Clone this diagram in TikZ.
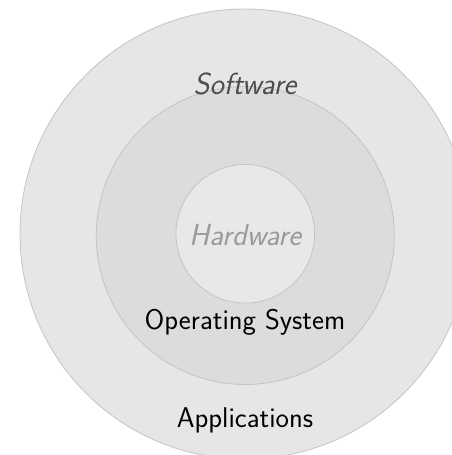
\documentclass[tikz,border=0pt]{standalone}
\definecolor{outerfill}{HTML}{E6E6E6}
\definecolor{midfill}{HTML}{DCDCDC}
\definecolor{corefill}{HTML}{E8E8E8}
\definecolor{ringline}{HTML}{C4C4C4}
\definecolor{softtext}{HTML}{4D4D4D}
\definecolor{hardtext}{HTML}{9A9A9A}
\tikzset{
  ring/.style={draw=ringline, line width=0.8pt},
  lbl/.style={font=\fontsize{28.5}{33}\selectfont\sffamily, inner sep=0pt, anchor=center},
  lblit/.style={lbl, font=\fontsize{30.5}{35}\selectfont\sffamily\itshape},
}
\begin{document}
\begin{tikzpicture}[x=1pt, y=-1pt]
  \useasboundingbox (0,0) rectangle (452,455);
  \fill[white] (0,0) rectangle (452,455);
  \begin{scope}
    \clip (0,0) rectangle (452,455);
    \path[ring, fill=outerfill] (245,234) circle[radius=225];
    \path[ring, fill=midfill] (245.3,235.5) circle[radius=149];
    \path[ring, fill=corefill] (245.3,233.8) circle[radius=69.3];
  \end{scope}
  \node[lblit, text=softtext] (sw) at (245,84) {Software};
  \node[lblit, text=hardtext] (hw) at (245,235) {Hardware};
  \node[lbl] (os) at (245,322) {Operating System};
  \node[lbl] (app) at (245,420) {Applications};
\end{tikzpicture}
\end{document}
